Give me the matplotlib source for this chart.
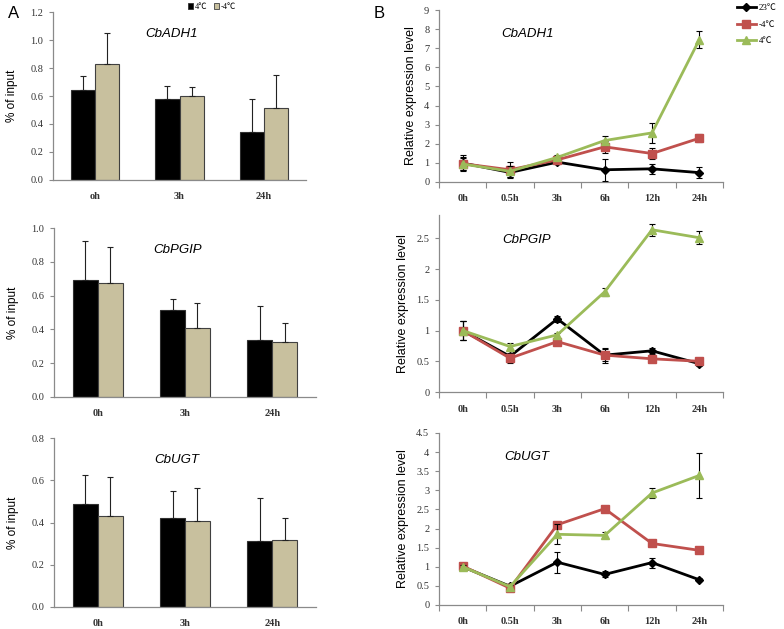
import matplotlib
matplotlib.use("Agg")
import matplotlib.pyplot as plt
import numpy as np
from matplotlib.patches import Patch
from matplotlib.lines import Line2D

W, H = 784, 629
fig = plt.figure(figsize=(W / 100, H / 100), dpi=100)

# ---------------- Data ----------------
bar_cats = [["oh", "3h", "24h"], ["0h", "3h", "24h"], ["0h", "3h", "24h"]]
genes = ["CbADH1", "CbPGIP", "CbUGT"]
bar_4C = [[0.64, 0.576, 0.34], [0.695, 0.517, 0.335], [0.488, 0.419, 0.311]]
bar_4C_err = [[0.105, 0.098, 0.24], [0.23, 0.065, 0.203], [0.137, 0.13, 0.203]]
bar_m4C = [[0.826, 0.602, 0.514], [0.673, 0.41, 0.325], [0.429, 0.407, 0.315]]
bar_m4C_err = [[0.222, 0.065, 0.234], [0.217, 0.146, 0.115], [0.188, 0.158, 0.106]]
bar_ylims = [1.2, 1.0, 0.8]
bar_yticks = [np.arange(0, 1.21, 0.2), np.arange(0, 1.01, 0.2), np.arange(0, 0.81, 0.2)]

time_labels = ["0h", "0.5h", "3h", "6h", "12h", "24h"]
s23 = [[0.99, 0.50, 1.04, 0.64, 0.69, 0.49],
       [1.00, 0.58, 1.19, 0.60, 0.67, 0.46],
       [1.00, 0.49, 1.12, 0.80, 1.11, 0.66]]
s23_err = [[0.40, 0.28, 0.10, 0.57, 0.25, 0.30],
           [0.16, 0.05, 0.05, 0.10, 0.05, 0.03],
           [0.05, 0.05, 0.27, 0.08, 0.13, 0.04]]
sm4 = [[0.96, 0.64, 1.16, 1.84, 1.49, 2.29],
       [1.00, 0.55, 0.82, 0.60, 0.54, 0.50],
       [1.02, 0.44, 2.10, 2.52, 1.61, 1.43]]
sm4_err = [[0.35, 0.40, 0.10, 0.30, 0.30, 0.20],
           [0.15, 0.07, 0.05, 0.12, 0.03, 0.03],
           [0.05, 0.05, 0.05, 0.08, 0.03, 0.03]]
s4 = [[0.94, 0.56, 1.29, 2.17, 2.57, 7.45],
      [1.00, 0.74, 0.93, 1.63, 2.64, 2.51],
      [1.00, 0.48, 1.85, 1.82, 2.93, 3.39]]
s4_err = [[0.30, 0.30, 0.10, 0.26, 0.53, 0.45],
          [0.15, 0.06, 0.03, 0.06, 0.10, 0.11],
          [0.05, 0.05, 0.26, 0.08, 0.14, 0.58]]
line_ylims = [9, 2.88, 4.5]
line_yticks = [np.arange(0, 9.1, 1), np.arange(0, 2.51, 0.5), np.arange(0, 4.51, 0.5)]
legend_bar = ["4\u2103", "-4\u2103"]
legend_line = ["23\u2103", "-4\u2103", "4\u2103"]

# ---------------- Style ----------------
SERIF = "Liberation Serif"
SERIF_L = ["Liberation Serif", "Noto Sans CJK SC", "DejaVu Sans"]
SANS = "Liberation Sans"
SPINE = "#8a8a8a"
BEIGE = "#c8c09e"
RED = "#c0504d"
GREEN = "#9bbb59"


def ax_px(x0, y0, x1, y1):
    return fig.add_axes([x0 / W, 1 - y1 / H, (x1 - x0) / W, (y1 - y0) / H])


left_boxes = [(53, 12, 306, 180), (54, 228, 316, 397), (54, 438, 316, 607)]
right_boxes = [(439, 10, 723, 182), (439, 215, 723, 392), (439, 433, 723, 605)]

for i in range(3):
    ax = ax_px(*left_boxes[i])
    x = np.arange(3)
    w = 0.285
    ax.bar(x - w / 2, bar_4C[i], w, color="black", edgecolor="#303030", linewidth=0.8, zorder=2)
    ax.bar(x + w / 2, bar_m4C[i], w, color=BEIGE, edgecolor="#404040", linewidth=0.8, zorder=2)
    ax.errorbar(x - w / 2, bar_4C[i], yerr=[np.zeros(3), bar_4C_err[i]], fmt="none",
                ecolor="#222222", elinewidth=0.8, capsize=2.2, capthick=0.8, zorder=3)
    ax.errorbar(x + w / 2, bar_m4C[i], yerr=[np.zeros(3), bar_m4C_err[i]], fmt="none",
                ecolor="#222222", elinewidth=0.8, capsize=2.2, capthick=0.8, zorder=3)
    ax.set_xlim(-0.5, 2.5)
    ax.set_ylim(0, bar_ylims[i])
    ax.set_yticks(bar_yticks[i])
    ax.set_yticklabels([f"{v:.1f}" for v in bar_yticks[i]], fontfamily=SERIF, fontsize=7.5, color="#333333")
    ax.set_xticks(x)
    ax.set_xticklabels(bar_cats[i], fontfamily=SERIF, fontsize=7.5, fontweight="bold", color="#333333")
    ax.tick_params(axis="x", length=0, pad=9)
    ax.tick_params(axis="y", length=3, width=0.8, color=SPINE, pad=4)
    for s in ["top", "right"]:
        ax.spines[s].set_visible(False)
    for s in ["left", "bottom"]:
        ax.spines[s].set_color(SPINE)
        ax.spines[s].set_linewidth(0.9)
    ax.set_ylabel("% of input", fontfamily=SANS, fontsize=8.5, labelpad=9)
    ax.text(0.47, 0.87, genes[i], transform=ax.transAxes, fontfamily=SANS, fontsize=9.5,
            style="italic", ha="center", va="center")

for i in range(3):
    ax = ax_px(*right_boxes[i])
    x = np.arange(6)
    ax.errorbar(x, s23[i], yerr=s23_err[i], color="black", lw=2, marker="D", ms=4,
                ecolor="black", elinewidth=0.8, capsize=2, capthick=0.8, zorder=3)
    ax.errorbar(x, sm4[i], yerr=sm4_err[i], color=RED, lw=2, marker="s", ms=5.5,
                ecolor="black", elinewidth=0.8, capsize=2, capthick=0.8, zorder=4)
    ax.errorbar(x, s4[i], yerr=s4_err[i], color=GREEN, lw=2, marker="^", ms=6,
                ecolor="black", elinewidth=0.8, capsize=2, capthick=0.8, zorder=5)
    ax.set_xlim(-0.5, 5.5)
    ax.set_ylim(0, line_ylims[i])
    ax.set_yticks(line_yticks[i])
    ax.set_yticklabels([("%g" % v) for v in line_yticks[i]], fontfamily=SERIF, fontsize=7.5, color="#333333")
    ax.set_xticks(x)
    ax.set_xticklabels(time_labels, fontfamily=SERIF, fontsize=7.5, fontweight="bold", color="#333333")
    ax.set_xticks(np.arange(-0.5, 5.6, 1), minor=True)
    ax.tick_params(axis="x", which="major", length=0, pad=9)
    ax.tick_params(axis="x", which="minor", length=4, width=0.8, color=SPINE)
    ax.tick_params(axis="y", length=3, width=0.8, color=SPINE, pad=4)
    for s in ["top", "right"]:
        ax.spines[s].set_visible(False)
    for s in ["left", "bottom"]:
        ax.spines[s].set_color(SPINE)
        ax.spines[s].set_linewidth(0.9)
    ax.set_ylabel("Relative expression level", fontfamily=SANS, fontsize=9, labelpad=5)
    ax.text(0.31, 0.86, genes[i], transform=ax.transAxes, fontfamily=SANS, fontsize=9.5,
            style="italic", ha="center", va="center")

# Panel letters
fig.text(8 / W, 1 - 13 / H, "A", fontfamily=SANS, fontsize=12, ha="left", va="center")
fig.text(374 / W, 1 - 14 / H, "B", fontfamily=SANS, fontsize=12, ha="left", va="center")

# Left legend
hdl = [Patch(facecolor="black", edgecolor="#303030", linewidth=0.6),
       Patch(facecolor=BEIGE, edgecolor="#404040", linewidth=0.6)]
fig.legend(hdl, legend_bar, loc="center", bbox_to_anchor=(212 / W, 1 - 7 / H),
           ncol=2, frameon=False, prop={"family": SERIF_L, "size": 6},
           handlelength=0.6, handleheight=0.6, handletextpad=0.2, columnspacing=0.8,
           borderpad=0, borderaxespad=0)

# Right legend
lh = [Line2D([], [], color="black", lw=2, marker="D", ms=4),
      Line2D([], [], color=RED, lw=2, marker="s", ms=5.5),
      Line2D([], [], color=GREEN, lw=2, marker="^", ms=6)]
fig.legend(lh, legend_line, loc="upper left",
           bbox_to_anchor=(737 / W, 1 - 4 / H), frameon=False,
           prop={"family": SERIF_L, "size": 6.5}, handlelength=2.1, handletextpad=0.3,
           labelspacing=0.9, borderpad=0, borderaxespad=0)

fig.savefig("out.png", dpi=100)
